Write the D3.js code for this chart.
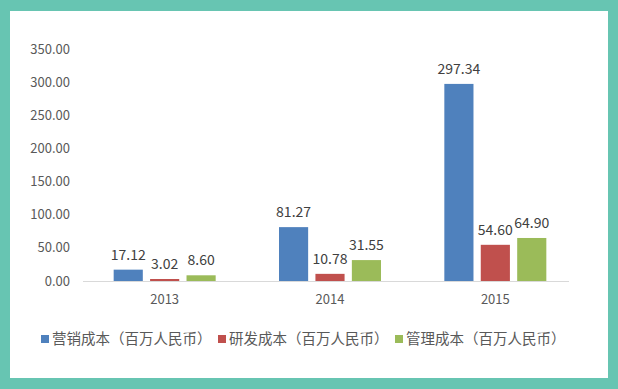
<!DOCTYPE html>
<meta charset="utf-8">
<script src="https://cdn.jsdelivr.net/npm/d3@7"></script>
<style>
body { margin: 0; background: #67c5b2; }
text { font-family: "Noto Sans CJK SC", "Liberation Sans", sans-serif; }
</style>
<body>
<script>

var years = ["2013", "2014", "2015"];
var seriesNames = ["营销成本（百万人民币）", "研发成本（百万人民币）", "管理成本（百万人民币）"];
var marketing = [17.12, 81.27, 297.34];
var research = [3.02, 10.78, 54.60];
var admin = [8.60, 31.55, 64.90];
var yTicks = [0, 50, 100, 150, 200, 250, 300, 350];

var colors = ["#4f81bd", "#c0504d", "#9bbb59"];
var allSeries = [marketing, research, admin];

var width = 618, height = 389;

var svg = d3.select("body").append("svg")
    .attr("width", width)
    .attr("height", height);

// white card inside teal frame
svg.append("rect")
    .attr("x", 10).attr("y", 11)
    .attr("width", 598).attr("height", 367)
    .attr("fill", "#ffffff");

var x = d3.scaleBand()
    .domain(years)
    .range([82, 578]);

var xInner = d3.scaleBand()
    .domain([0, 1, 2])
    .range([0, 102])
    .paddingInner(0.2);

var y = d3.scaleLinear()
    .domain([0, 350])
    .range([281, 49]);

// y tick labels
svg.append("g")
    .selectAll("text")
    .data(yTicks)
    .enter().append("text")
    .attr("x", 70)
    .attr("y", function(d) { return y(d); })
    .attr("dy", "0.35em")
    .attr("text-anchor", "end")
    .attr("fill", "#595959")
    .style("font-size", "13px")
    .text(function(d) { return d.toFixed(2); });

// bars
var groups = svg.append("g")
    .selectAll("g")
    .data(years)
    .enter().append("g")
    .attr("transform", function(d) {
        return "translate(" + (x(d) + x.bandwidth() / 2 - 51) + ",0)";
    });

groups.selectAll("rect")
    .data(function(d, i) { return allSeries.map(function(s, k) { return {k: k, v: s[i]}; }); })
    .enter().append("rect")
    .attr("x", function(d) { return xInner(d.k); })
    .attr("y", function(d) { return y(d.v); })
    .attr("width", xInner.bandwidth())
    .attr("height", function(d) { return y(0) - y(d.v); })
    .attr("fill", function(d) { return colors[d.k]; });

groups.selectAll("text")
    .data(function(d, i) { return allSeries.map(function(s, k) { return {k: k, v: s[i]}; }); })
    .enter().append("text")
    .attr("x", function(d) { return xInner(d.k) + xInner.bandwidth() / 2; })
    .attr("y", function(d) { return y(d.v) - 10; })
    .attr("text-anchor", "middle")
    .attr("fill", "#404040")
    .style("font-size", "14px")
    .text(function(d) { return d.v.toFixed(2); });

// baseline
svg.append("line")
    .attr("x1", 83).attr("x2", 569)
    .attr("y1", y(0) + 0.5).attr("y2", y(0) + 0.5)
    .attr("stroke", "#d9d9d9")
    .attr("stroke-width", 1);

// x labels
svg.append("g")
    .selectAll("text")
    .data(years)
    .enter().append("text")
    .attr("x", function(d) { return x(d) + x.bandwidth() / 2; })
    .attr("y", 304)
    .attr("text-anchor", "middle")
    .attr("fill", "#595959")
    .style("font-size", "13px")
    .text(function(d) { return d; });

// legend
var legend = svg.append("g")
    .selectAll("g")
    .data(seriesNames)
    .enter().append("g")
    .attr("transform", function(d, i) { return "translate(" + (41 + i * 177) + ",339)"; });

legend.append("rect")
    .attr("x", 0).attr("y", -4)
    .attr("width", 8).attr("height", 8)
    .attr("fill", function(d, i) { return colors[i]; });

legend.append("text")
    .attr("x", 11)
    .attr("dy", "0.35em")
    .attr("fill", "#595959")
    .style("font-size", "14.5px")
    .text(function(d) { return d; });

</script>
</body>
